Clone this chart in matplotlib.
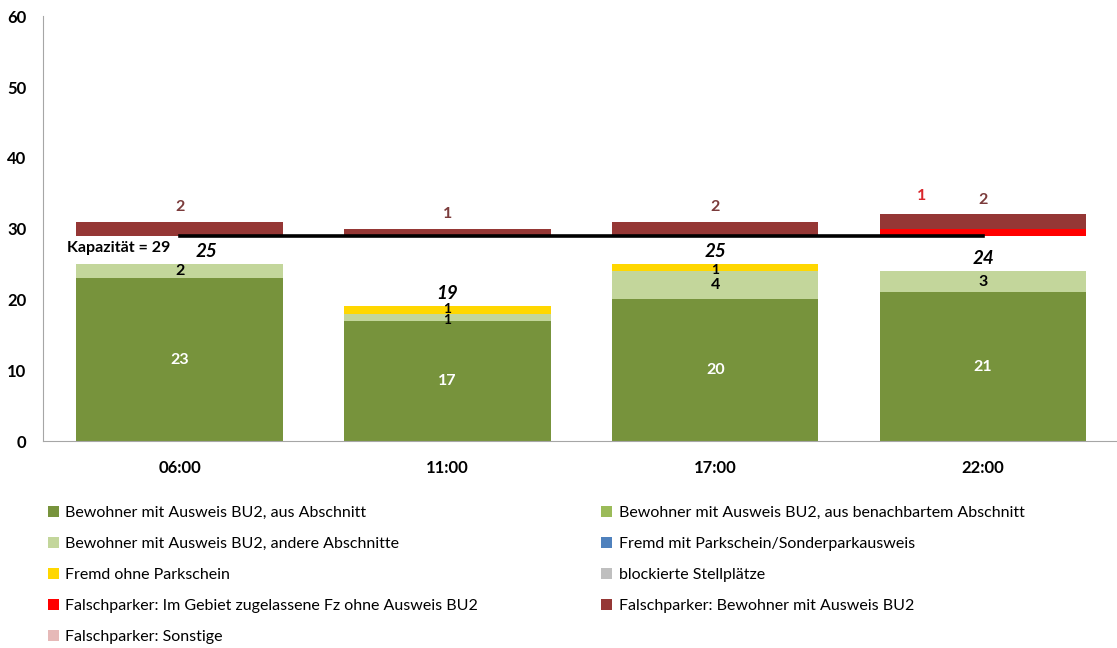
import matplotlib
matplotlib.use("Agg")
import matplotlib.pyplot as plt
import numpy as np

plt.rcParams['font.family'] = ['Lato', 'DejaVu Sans']

# ---- data ----
zeiten = ["06:00", "11:00", "17:00", "22:00"]
aus_abschnitt = [23, 17, 20, 21]
benachbart = [0, 0, 0, 0]
andere = [2, 1, 4, 3]
fremd_mit = [0, 0, 0, 0]
fremd_ohne = [0, 1, 1, 0]
blockiert = [0, 0, 0, 0]
fp_gebiet = [0, 0, 0, 1]
fp_bewohner = [2, 1, 2, 2]
fp_sonstige = [0, 0, 0, 0]
kapazitaet = 29
summen = [25, 19, 25, 24]

legal_series = [
    ("Bewohner mit Ausweis BU2, aus Abschnitt", aus_abschnitt, "#77933C", "white"),
    ("Bewohner mit Ausweis BU2, aus benachbartem Abschnitt", benachbart, "#9BBB59", "black"),
    ("Bewohner mit Ausweis BU2, andere Abschnitte", andere, "#C3D69B", "black"),
    ("Fremd mit Parkschein/Sonderparkausweis", fremd_mit, "#4F81BD", "black"),
    ("Fremd ohne Parkschein", fremd_ohne, "#FFD700", "black"),
    ("blockierte Stellplätze", blockiert, "#BFBFBF", "black"),
]
fp_series = [
    ("Falschparker: Im Gebiet zugelassene Fz ohne Ausweis BU2", fp_gebiet, "#FF0000", "#D9262B"),
    ("Falschparker: Bewohner mit Ausweis BU2", fp_bewohner, "#953735", "#7B3B3B"),
    ("Falschparker: Sonstige", fp_sonstige, "#E6B9B8", "#7B3B3B"),
]

fig = plt.figure(figsize=(11.17, 6.48), dpi=100)
ax = fig.add_axes([0.0385, 0.3194, 0.9615, 0.6556])
x = np.arange(len(zeiten))
w = 0.77

handles = {}
bottom = np.zeros(len(zeiten))
prev_small = np.zeros(len(zeiten), dtype=bool)
for name, vals, col, tcol in legal_series:
    v = np.array(vals, dtype=float)
    b = ax.bar(x, v, w, bottom=bottom, color=col, label=name, zorder=2)
    handles[name] = b
    for i in range(len(x)):
        if v[i] > 0:
            small = v[i] <= 1
            nudge = 0.2 if (small and prev_small[i]) else (-0.4 if small else 0.0)
            ax.text(x[i], bottom[i] + v[i] / 2 + nudge, f"{int(v[i])}", ha="center", va="center",
                    fontsize=10 if small else 11.5, fontweight="bold", color=tcol, zorder=5)
            prev_small[i] = small
    bottom = bottom + v

fp_bottom = np.full(len(zeiten), float(kapazitaet))
fp_label_pos = {0: (-0.23, 2.6), 1: (0.0, 2.1), 2: (0.0, 2.1)}
fp_tops = fp_bottom + np.array(fp_gebiet) + np.array(fp_bewohner) + np.array(fp_sonstige)
for k, (name, vals, col, tcol) in enumerate(fp_series):
    v = np.array(vals, dtype=float)
    b = ax.bar(x, v, w, bottom=fp_bottom, color=col, label=name, zorder=2)
    handles[name] = b
    dx, dy = fp_label_pos[k]
    for i in range(len(x)):
        if v[i] > 0:
            ax.text(x[i] + dx, fp_tops[i] + dy, f"{int(v[i])}", ha="center", va="center",
                    fontsize=11.5, fontweight="bold", color=tcol, zorder=5)
    fp_bottom = fp_bottom + v

# totals
sum_dx = [0.1, 0.0, 0.0, 0.0]
for i in range(len(x)):
    ax.text(x[i] + sum_dx[i], summen[i] + 1.8, f"{summen[i]}", ha="center", va="center",
            fontsize=13.5, fontweight="bold", fontstyle="italic", color="black", zorder=5)

# capacity line
ax.plot([x[0], x[-1]], [kapazitaet, kapazitaet], color="black", lw=2.6, zorder=4)
ax.text(x[0] - 0.42, kapazitaet - 1.7, f"Kapazität = {kapazitaet}", ha="left", va="center",
        fontsize=11.5, fontweight="bold", color="black", zorder=5)

ax.set_xlim(-0.51, 3.5)
ax.set_ylim(0, 60)
ax.set_yticks(range(0, 61, 10))
ax.set_xticks(x)
ax.set_xticklabels(zeiten)
for lab in ax.get_xticklabels() + ax.get_yticklabels():
    lab.set_fontweight("bold")
    lab.set_fontsize(12)
ax.tick_params(axis="x", length=0, pad=14)
ax.tick_params(axis="y", length=0, pad=12)
for s in ["top", "right"]:
    ax.spines[s].set_visible(False)
ax.spines["left"].set_color("#A6A6A6")
ax.spines["bottom"].set_color("#A6A6A6")

order = [legal_series[0][0], legal_series[2][0], legal_series[4][0], fp_series[0][0], fp_series[2][0],
         legal_series[1][0], legal_series[3][0], legal_series[5][0], fp_series[1][0]]
leg = fig.legend([handles[n] for n in order], order, ncol=2, loc="upper left",
                 bbox_to_anchor=(0.030, 0.242), frameon=False, fontsize=11.5,
                 handlelength=0.7, handleheight=0.7, handletextpad=0.4,
                 columnspacing=7.7, labelspacing=1.06)

fig.savefig("out.png", dpi=100)
